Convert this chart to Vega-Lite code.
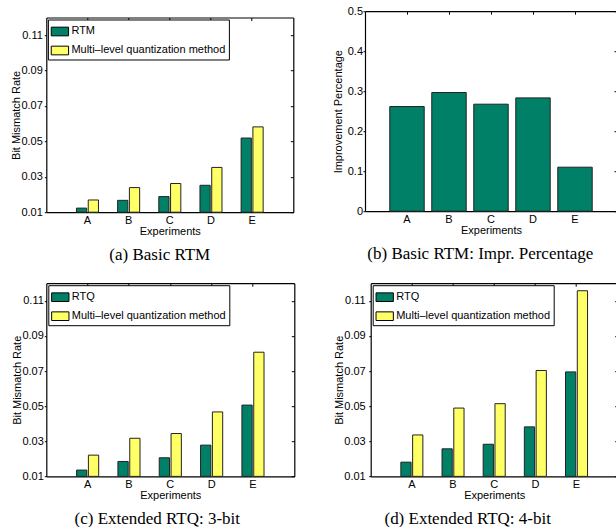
{
  "$schema": "https://vega.github.io/schema/vega-lite/v6.json",
  "autosize": {"type": "pad"},
  "padding": {"left": 10.3, "top": 5.2, "right": 0, "bottom": 0},
  "background": "white",
  "config": {
    "font": "Liberation Sans",
    "view": {"stroke": null},
    "axis": {"grid": false, "labelFont": "Liberation Sans", "labelFontSize": 11, "labelColor": "black", "titleFont": "Liberation Sans", "titleFontSize": 11, "titleFontWeight": "normal", "titleColor": "black", "domainColor": "black", "tickColor": "black", "domainWidth": 1.2, "labelFlush": false, "labelOverlap": false},
    "title": {"font": "Liberation Serif", "fontSize": 17, "fontWeight": "normal", "color": "black"},
    "legend": {"labelFont": "Liberation Sans", "labelFontSize": 11, "labelColor": "black"}
  },
  "datasets": {
    "a": [
      {"exp": "A", "method": "RTM", "value": 0.0123},
      {"exp": "B", "method": "RTM", "value": 0.0167},
      {"exp": "C", "method": "RTM", "value": 0.0188},
      {"exp": "D", "method": "RTM", "value": 0.0252},
      {"exp": "E", "method": "RTM", "value": 0.0519},
      {"exp": "A", "method": "Multi–level quantization method", "value": 0.0169},
      {"exp": "B", "method": "Multi–level quantization method", "value": 0.0239},
      {"exp": "C", "method": "Multi–level quantization method", "value": 0.0262},
      {"exp": "D", "method": "Multi–level quantization method", "value": 0.0353},
      {"exp": "E", "method": "Multi–level quantization method", "value": 0.0582}
    ],
    "b": [
      {"exp": "A", "value": 0.2617},
      {"exp": "B", "value": 0.2967},
      {"exp": "C", "value": 0.2675},
      {"exp": "D", "value": 0.2833},
      {"exp": "E", "value": 0.110}
    ],
    "c": [
      {"exp": "A", "method": "RTQ", "value": 0.0136},
      {"exp": "B", "method": "RTQ", "value": 0.0185},
      {"exp": "C", "method": "RTQ", "value": 0.0206},
      {"exp": "D", "method": "RTQ", "value": 0.0278},
      {"exp": "E", "method": "RTQ", "value": 0.0506},
      {"exp": "A", "method": "Multi–level quantization method", "value": 0.0221},
      {"exp": "B", "method": "Multi–level quantization method", "value": 0.0317},
      {"exp": "C", "method": "Multi–level quantization method", "value": 0.0344},
      {"exp": "D", "method": "Multi–level quantization method", "value": 0.0467},
      {"exp": "E", "method": "Multi–level quantization method", "value": 0.0807}
    ],
    "d": [
      {"exp": "A", "method": "RTQ", "value": 0.0181},
      {"exp": "B", "method": "RTQ", "value": 0.0257},
      {"exp": "C", "method": "RTQ", "value": 0.0283},
      {"exp": "D", "method": "RTQ", "value": 0.0382},
      {"exp": "E", "method": "RTQ", "value": 0.0695},
      {"exp": "A", "method": "Multi–level quantization method", "value": 0.0336},
      {"exp": "B", "method": "Multi–level quantization method", "value": 0.0489},
      {"exp": "C", "method": "Multi–level quantization method", "value": 0.0514},
      {"exp": "D", "method": "Multi–level quantization method", "value": 0.0703},
      {"exp": "E", "method": "Multi–level quantization method", "value": 0.1157}
    ]
  },
  "spacing": 19,
  "bounds": "full",
  "resolve": {"scale": {"color": "independent", "xOffset": "independent"}, "legend": {"color": "independent"}},
  "vconcat": [
    {
      "hconcat": [
        {
          "width": 247, "height": 201,
          "data": {"name": "a"},
          "title": {"text": "(a) Basic RTM", "orient": "bottom", "anchor": "middle", "frame": "group", "dx": -10, "offset": 10.3, "baseline": "top"},
          "resolve": {"axis": {"x": "independent", "y": "independent"}},
          "layer": [
            {
              "mark": {"type": "bar", "stroke": "#222", "strokeWidth": 1},
              "encoding": {
                "x": {"field": "exp", "type": "nominal", "scale": {"type": "band", "paddingInner": 0.465, "paddingOuter": 0.7325},
                      "axis": {"orient": "bottom", "title": "Experiments", "labelAngle": 0, "ticks": false, "labelPadding": 2.5, "titlePadding": 0, "domainWidth": 1.3}},
                "xOffset": {"field": "method", "type": "nominal", "scale": {"domain": ["RTM", "Multi–level quantization method"], "paddingInner": 0.13, "paddingOuter": 0}},
                "y": {"field": "value", "type": "quantitative", "scale": {"domain": [0.01, 0.12], "range": [201, 6.3], "nice": false, "zero": false},
                      "axis": {"orient": "left", "title": "Bit Mismatch Rate", "values": [0.01, 0.03, 0.05, 0.07, 0.09, 0.11], "format": ".2f", "tickSize": 2, "labelPadding": 2, "titlePadding": -1, "minExtent": 0}},
                "y2": {"datum": 0.01},
                "color": {"field": "method", "type": "nominal", "scale": {"domain": ["RTM", "Multi–level quantization method"], "range": ["#008066", "#FFFF66"]},
                          "legend": {"title": null, "orient": "none", "legendX": 1.6, "legendY": 8.3, "fillColor": "white", "strokeColor": "black", "padding": 2.5, "rowPadding": 3, "labelOffset": 2, "cornerRadius": 0, "symbolType": "M-1,-0.5L1,-0.5L1,0.5L-1,0.5Z", "symbolSize": 300, "symbolStrokeColor": "black", "symbolStrokeWidth": 1, "symbolOpacity": 1}}
              }
            },
            {
              "mark": {"type": "point", "opacity": 0},
              "encoding": {
                "x": {"field": "exp", "type": "nominal", "scale": {"type": "band", "paddingInner": 0.465, "paddingOuter": 0.7325},
                      "axis": {"orient": "top", "title": null, "labels": false, "tickSize": -3, "offset": -6.3, "minExtent": 0}},
                "y": {"field": "value", "type": "quantitative", "scale": {"domain": [0.01, 0.12], "range": [201, 6.3], "nice": false, "zero": false},
                      "axis": {"orient": "right", "title": null, "labels": false, "values": [0.01, 0.03, 0.05, 0.07, 0.09, 0.11], "tickSize": -3, "minExtent": 0}}
              }
            }
          ]
        },
        {
          "width": 252, "height": 200,
          "data": {"name": "b"},
          "title": {"text": "(b) Basic RTM: Impr. Percentage", "orient": "bottom", "anchor": "middle", "frame": "group", "dx": -10.7, "offset": 10.3, "baseline": "top"},
          "resolve": {"axis": {"x": "independent", "y": "independent"}},
          "layer": [
            {
              "mark": {"type": "bar", "color": "#008066", "stroke": "#222", "strokeWidth": 1},
              "encoding": {
                "x": {"field": "exp", "type": "nominal", "scale": {"type": "band", "paddingInner": 0.18, "paddingOuter": 0.59},
                      "axis": {"orient": "bottom", "title": "Experiments", "labelAngle": 0, "ticks": false, "labelPadding": 2.5, "titlePadding": 0, "domainWidth": 1.3}},
                "y": {"field": "value", "type": "quantitative", "scale": {"domain": [0, 0.5], "nice": false},
                      "axis": {"orient": "left", "title": "Improvement Percentage", "values": [0, 0.1, 0.2, 0.3, 0.4, 0.5], "format": ".1~f", "tickSize": 2, "labelPadding": 0.5, "titlePadding": 4, "minExtent": 0}}
              }
            },
            {
              "mark": {"type": "point", "opacity": 0},
              "encoding": {
                "x": {"field": "exp", "type": "nominal", "scale": {"type": "band", "paddingInner": 0.18, "paddingOuter": 0.59},
                      "axis": {"orient": "top", "title": null, "labels": false, "tickSize": -3, "minExtent": 0}},
                "y": {"field": "value", "type": "quantitative", "scale": {"domain": [0, 0.5], "nice": false},
                      "axis": {"orient": "right", "title": null, "labels": false, "domain": false, "values": [0, 0.1, 0.2, 0.3, 0.4, 0.5], "tickSize": -3, "minExtent": 0}}
              }
            }
          ]
        }
      ],
      "spacing": 37.7,
      "bounds": "full",
      "resolve": {"scale": {"color": "independent", "xOffset": "independent"}, "legend": {"color": "independent"}}
    },
    {
      "hconcat": [
        {
          "width": 248, "height": 193.2,
          "data": {"name": "c"},
          "title": {"text": "(c) Extended RTQ: 3-bit", "orient": "bottom", "anchor": "middle", "frame": "group", "dx": -13, "offset": 10.3, "baseline": "top"},
          "resolve": {"axis": {"x": "independent", "y": "independent"}},
          "layer": [
            {
              "mark": {"type": "bar", "stroke": "#222", "strokeWidth": 1},
              "encoding": {
                "x": {"field": "exp", "type": "nominal", "scale": {"type": "band", "paddingInner": 0.465, "paddingOuter": 0.7325},
                      "axis": {"orient": "bottom", "title": "Experiments", "labelAngle": 0, "ticks": false, "labelPadding": 2.5, "titlePadding": 0, "domainWidth": 1.3}},
                "xOffset": {"field": "method", "type": "nominal", "scale": {"domain": ["RTQ", "Multi–level quantization method"], "paddingInner": 0.13, "paddingOuter": 0}},
                "y": {"field": "value", "type": "quantitative", "scale": {"domain": [0.01, 0.12], "nice": false, "zero": false},
                      "axis": {"orient": "left", "title": "Bit Mismatch Rate", "values": [0.01, 0.03, 0.05, 0.07, 0.09, 0.11], "format": ".2f", "tickSize": 2, "labelPadding": 1, "titlePadding": -1, "minExtent": 0}},
                "y2": {"datum": 0.01},
                "color": {"field": "method", "type": "nominal", "scale": {"domain": ["RTQ", "Multi–level quantization method"], "range": ["#008066", "#FFFF66"]},
                          "legend": {"title": null, "orient": "top-left", "offset": 2, "fillColor": "white", "strokeColor": "black", "padding": 2.5, "rowPadding": 3, "labelOffset": 2, "cornerRadius": 0, "symbolType": "M-1,-0.5L1,-0.5L1,0.5L-1,0.5Z", "symbolSize": 300, "symbolStrokeColor": "black", "symbolStrokeWidth": 1, "symbolOpacity": 1}}
              }
            },
            {
              "mark": {"type": "point", "opacity": 0},
              "encoding": {
                "x": {"field": "exp", "type": "nominal", "scale": {"type": "band", "paddingInner": 0.465, "paddingOuter": 0.7325},
                      "axis": {"orient": "top", "title": null, "labels": false, "tickSize": -3, "minExtent": 0}},
                "y": {"field": "value", "type": "quantitative", "scale": {"domain": [0.01, 0.12], "nice": false, "zero": false},
                      "axis": {"orient": "right", "title": null, "labels": false, "values": [0.01, 0.03, 0.05, 0.07, 0.09, 0.11], "tickSize": -3, "minExtent": 0}}
              }
            }
          ]
        },
        {
          "width": 247, "height": 193.2,
          "data": {"name": "d"},
          "title": {"text": "(d) Extended RTQ: 4-bit", "orient": "bottom", "anchor": "middle", "frame": "group", "dx": -26.5, "offset": 10.3, "baseline": "top"},
          "resolve": {"axis": {"x": "independent", "y": "independent"}},
          "layer": [
            {
              "mark": {"type": "bar", "stroke": "#222", "strokeWidth": 1},
              "encoding": {
                "x": {"field": "exp", "type": "nominal", "scale": {"type": "band", "paddingInner": 0.465, "paddingOuter": 0.7325},
                      "axis": {"orient": "bottom", "title": "Experiments", "labelAngle": 0, "ticks": false, "labelPadding": 2.5, "titlePadding": 0, "domainWidth": 1.3}},
                "xOffset": {"field": "method", "type": "nominal", "scale": {"domain": ["RTQ", "Multi–level quantization method"], "paddingInner": 0.13, "paddingOuter": 0}},
                "y": {"field": "value", "type": "quantitative", "scale": {"domain": [0.01, 0.12], "nice": false, "zero": false},
                      "axis": {"orient": "left", "title": "Bit Mismatch Rate", "values": [0.01, 0.03, 0.05, 0.07, 0.09, 0.11], "format": ".2f", "tickSize": 2, "labelPadding": 3.5, "titlePadding": -1.2, "minExtent": 0}},
                "y2": {"datum": 0.01},
                "color": {"field": "method", "type": "nominal", "scale": {"domain": ["RTQ", "Multi–level quantization method"], "range": ["#008066", "#FFFF66"]},
                          "legend": {"title": null, "orient": "top-left", "offset": 2, "fillColor": "white", "strokeColor": "black", "padding": 2.5, "rowPadding": 3, "labelOffset": 2, "cornerRadius": 0, "symbolType": "M-1,-0.5L1,-0.5L1,0.5L-1,0.5Z", "symbolSize": 300, "symbolStrokeColor": "black", "symbolStrokeWidth": 1, "symbolOpacity": 1}}
              }
            },
            {
              "mark": {"type": "point", "opacity": 0},
              "encoding": {
                "x": {"field": "exp", "type": "nominal", "scale": {"type": "band", "paddingInner": 0.465, "paddingOuter": 0.7325},
                      "axis": {"orient": "top", "title": null, "labels": false, "tickSize": -3, "minExtent": 0}},
                "y": {"field": "value", "type": "quantitative", "scale": {"domain": [0.01, 0.12], "nice": false, "zero": false},
                      "axis": {"orient": "right", "title": null, "labels": false, "domain": false, "values": [0.01, 0.03, 0.05, 0.07, 0.09, 0.11], "tickSize": -3, "minExtent": 0}}
              }
            }
          ]
        }
      ],
      "spacing": 38.4,
      "bounds": "full",
      "resolve": {"scale": {"color": "independent", "xOffset": "independent"}, "legend": {"color": "independent"}}
    }
  ]
}
